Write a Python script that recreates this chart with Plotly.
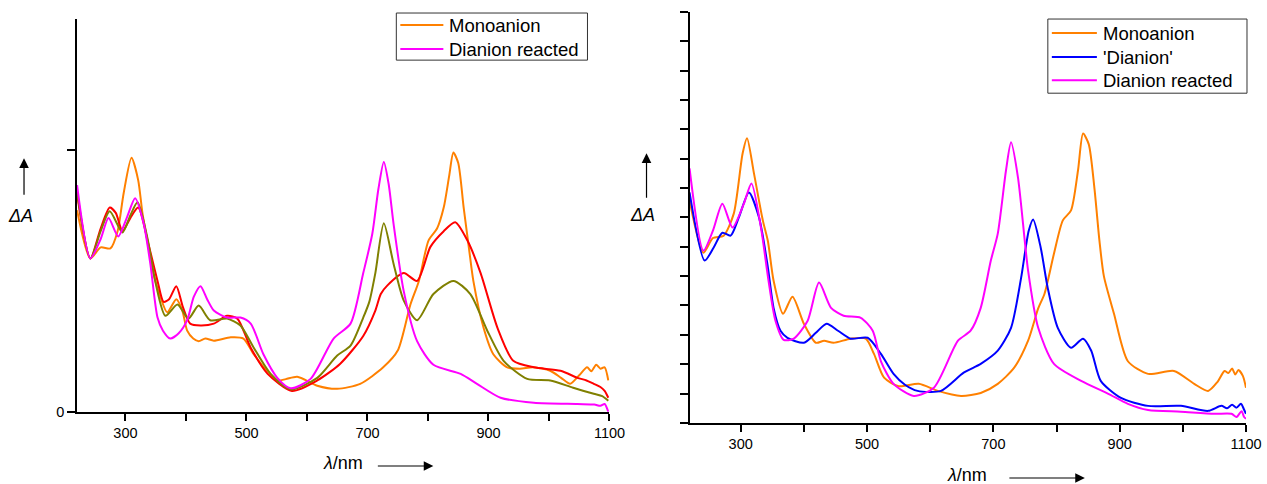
import plotly.graph_objects as go

# ---------------- data (wavelength nm, ΔA arbitrary units) ----------------
L_mono_x = [220,242,259,275,287,297,310,321,328,336,346,358,369,384,394,402,412,421,432,446,474,495,512,534,551,565,584,617,650,688,726,750,771,785,801,815,826,835,842,850,859,868,875,892,908,931,952,974,1002,1020,1035,1050,1063,1070,1078,1085,1092,1098]
L_mono_y = [0.77,0.586,0.628,0.624,0.69,0.835,0.97,0.885,0.76,0.655,0.53,0.437,0.38,0.43,0.387,0.31,0.28,0.27,0.28,0.272,0.285,0.28,0.22,0.157,0.12,0.125,0.134,0.10,0.088,0.107,0.17,0.234,0.41,0.50,0.655,0.70,0.78,0.90,0.99,0.95,0.78,0.62,0.50,0.32,0.22,0.17,0.165,0.17,0.157,0.13,0.107,0.14,0.17,0.155,0.18,0.165,0.17,0.12]

L_red_x = [220,242,259,274,284,295,308,321,338,353,363,372,384,395,407,424,446,468,485,507,535,575,617,655,693,713,722,733,760,782,804,826,845,865,887,915,941,975,1019,1047,1062,1074,1085,1092,1098]
L_red_y = [0.83,0.586,0.70,0.78,0.76,0.69,0.74,0.78,0.64,0.50,0.42,0.43,0.48,0.40,0.337,0.33,0.337,0.367,0.356,0.245,0.145,0.08,0.12,0.184,0.29,0.387,0.45,0.483,0.53,0.50,0.63,0.69,0.724,0.655,0.53,0.32,0.195,0.17,0.157,0.13,0.12,0.107,0.095,0.08,0.054]

L_olive_x = [220,242,259,274,295,308,320,336,350,366,386,404,421,440,468,490,512,540,573,617,650,672,693,703,713,727,743,760,782,809,842,870,898,925,964,1002,1040,1074,1088,1098]
L_olive_y = [0.84,0.586,0.69,0.766,0.685,0.75,0.80,0.667,0.49,0.367,0.41,0.356,0.406,0.35,0.356,0.33,0.245,0.145,0.086,0.13,0.215,0.253,0.36,0.42,0.53,0.72,0.567,0.425,0.35,0.45,0.50,0.45,0.31,0.195,0.126,0.12,0.092,0.069,0.06,0.042]

L_mag_x = [220,242,259,272,288,302,316,330,341,353,362,374,388,402,413,424,435,446,468,490,507,528,551,573,606,644,672,693,708,718,727,735,743,760,782,809,854,881,920,975,1047,1075,1085,1092,1098]
L_mag_y = [0.866,0.586,0.66,0.74,0.67,0.74,0.816,0.72,0.567,0.36,0.31,0.28,0.30,0.35,0.44,0.48,0.43,0.387,0.36,0.36,0.337,0.22,0.13,0.09,0.126,0.28,0.337,0.53,0.68,0.85,0.954,0.87,0.72,0.46,0.27,0.18,0.145,0.107,0.054,0.035,0.03,0.028,0.023,0.03,0.0]

R_mono_x = [219,241,256,273,289,303,310,321,335,343,352,367,382,400,419,432,447,474,498,511,527,550,582,612,649,680,707,733,755,771,781,796,810,823,834,842,851,860,868,875,891,913,945,986,1018,1040,1055,1066,1072,1078,1083,1088,1095,1100]
R_mono_y = [0.758,0.58,0.63,0.638,0.713,0.918,0.97,0.85,0.69,0.62,0.485,0.372,0.43,0.338,0.273,0.28,0.273,0.287,0.287,0.235,0.154,0.125,0.133,0.109,0.092,0.102,0.133,0.188,0.28,0.39,0.44,0.577,0.69,0.724,0.86,0.986,0.95,0.80,0.62,0.50,0.372,0.21,0.167,0.177,0.133,0.109,0.14,0.177,0.17,0.185,0.165,0.18,0.16,0.12]

R_blue_x = [219,243,257,271,284,297,313,329,343,352,363,374,400,419,436,454,474,501,522,542,560,580,617,653,680,707,728,744,756,763,775,786,802,823,842,855,870,902,945,997,1040,1061,1070,1078,1085,1092,1097,1100]
R_blue_y = [0.785,0.553,0.597,0.648,0.638,0.70,0.785,0.70,0.53,0.392,0.314,0.29,0.273,0.307,0.338,0.314,0.287,0.29,0.235,0.167,0.13,0.109,0.109,0.171,0.201,0.246,0.324,0.495,0.655,0.693,0.597,0.461,0.324,0.256,0.287,0.246,0.143,0.085,0.058,0.058,0.041,0.058,0.05,0.062,0.052,0.065,0.045,0.031]

R_mag_x = [219,241,256,271,287,305,317,332,344,355,368,384,406,424,443,463,490,509,522,542,574,606,644,664,680,696,707,720,728,739,755,771,796,839,882,913,945,997,1050,1077,1085,1093,1097,1100]
R_mag_y = [0.867,0.587,0.655,0.747,0.666,0.747,0.816,0.666,0.485,0.348,0.283,0.287,0.348,0.478,0.392,0.365,0.358,0.314,0.21,0.133,0.092,0.12,0.28,0.314,0.392,0.553,0.645,0.86,0.956,0.836,0.519,0.324,0.201,0.143,0.099,0.065,0.044,0.038,0.031,0.031,0.02,0.04,0.02,0.014]

x_ticks = [300, 400, 500, 600, 700, 800, 900, 1000, 1100]
x_labels = ["300", "", "500", "", "700", "", "900", "", "1100"]

ORANGE = "#FF8000"
MAGENTA = "#FF00FF"
RED = "#FF0000"
OLIVE = "#808000"
BLUE = "#0000FF"

FONT = "Arial, Liberation Sans, sans-serif"

fig = go.Figure()

def add(x, y, color, name, xa, ya):
    fig.add_trace(go.Scatter(
        x=x, y=y, mode="lines", name=name,
        line=dict(color=color, width=2, shape="spline", smoothing=0.7),
        xaxis=xa, yaxis=ya, showlegend=False))

# left panel
add(L_mono_x, L_mono_y, ORANGE, "Monoanion", "x", "y")
add(L_red_x, L_red_y, RED, "red", "x", "y")
add(L_olive_x, L_olive_y, OLIVE, "olive", "x", "y")
add(L_mag_x, L_mag_y, MAGENTA, "Dianion reacted", "x", "y")

# right panel
add(R_mono_x, R_mono_y, ORANGE, "Monoanion", "x2", "y2")
add(R_blue_x, R_blue_y, BLUE, "'Dianion'", "x2", "y2")
add(R_mag_x, R_mag_y, MAGENTA, "Dianion reacted", "x2", "y2")

W, H = 1267, 484
# the rendered page comes out slightly smaller than the layout size;
# positions are expressed in target pixels and converted with the effective size
WE, HE = 1250.0, 475.0

def fx(p):
    return p / WE

def fy(p):
    return 1 - p / HE

axis_common = dict(showline=True, linecolor="black", linewidth=1.5,
                   showgrid=False, zeroline=False, ticks="outside",
                   tickcolor="black", tickwidth=1.5, mirror=False,
                   tickfont=dict(family=FONT, size=14.5, color="black"))

fig.update_layout(
    width=W, height=H, autosize=False,
    margin=dict(l=0, r=0, t=0, b=0, pad=0),
    paper_bgcolor="white", plot_bgcolor="white",
    font=dict(family=FONT, color="black"),
    showlegend=False,
    xaxis=dict(domain=[fx(77), fx(609)], range=[220, 1100], anchor="y",
               tickvals=x_ticks, ticktext=x_labels, ticklen=7, **axis_common),
    yaxis=dict(domain=[fy(411), fy(19)], range=[0, 1.5], anchor="x",
               tickvals=[0, 1], ticktext=["0", ""], ticklen=8, **axis_common),
    xaxis2=dict(domain=[fx(689), fx(1245)], range=[219, 1100], anchor="y2",
                tickvals=x_ticks, ticktext=x_labels, ticklen=7, **axis_common),
    yaxis2=dict(domain=[fy(422), fy(12)], range=[0, 1.4], anchor="x2",
                tickvals=[i/10 for i in range(15)], showticklabels=False,
                ticklen=8, **axis_common),
)

def txt(x, y, s, size=18, anchor="center"):
    fig.add_annotation(x=fx(x), y=fy(y), xref="paper", yref="paper", text=s,
                       showarrow=False, xanchor=anchor, yanchor="middle",
                       font=dict(family=FONT, size=size, color="black"))

def arrow(x0, y0, x1, y1):
    fig.add_annotation(x=fx(x1), y=fy(y1), xref="paper", yref="paper", text="",
                       showarrow=True, ax=x0-x1, ay=y0-y1, axref="pixel", ayref="pixel",
                       arrowhead=2, arrowsize=1.6, arrowwidth=1.2, arrowcolor="black")

# axis titles
txt(343, 462, "<i>λ</i>/nm")
arrow(376, 465, 433, 465)
txt(966, 474, "<i>λ</i>/nm")
arrow(1007, 477, 1084, 477)
txt(20, 216, "<i>ΔA</i>")
arrow(24, 196, 24, 158)
txt(642, 215, "<i>ΔA</i>")
arrow(646, 199, 646, 153)

# legends (box, line samples, labels)
def legend(box, rows, x_line, x_text):
    x0, y0, x1, y1 = box
    fig.add_shape(type="rect", xref="paper", yref="paper",
                  x0=fx(x0), x1=fx(x1), y0=fy(y1), y1=fy(y0),
                  line=dict(color="#333333", width=1), fillcolor="white", layer="above")
    for (yy, color, label) in rows:
        fig.add_shape(type="line", xref="paper", yref="paper",
                      x0=fx(x_line[0]), x1=fx(x_line[1]), y0=fy(yy), y1=fy(yy),
                      line=dict(color=color, width=2), layer="above")
        txt(x_text, yy, label, size=18.5, anchor="left")

legend((396, 13, 587, 60),
       [(25, ORANGE, "Monoanion"), (49, MAGENTA, "Dianion reacted")],
       (400, 443), 447)
legend((1047, 19, 1246, 93),
       [(33, ORANGE, "Monoanion"), (57, BLUE, "'Dianion'"), (80, MAGENTA, "Dianion reacted")],
       (1051, 1096), 1100)

fig.write_html("out.html",
               post_script="document.body.style.margin='0';document.body.style.overflow='hidden';")
